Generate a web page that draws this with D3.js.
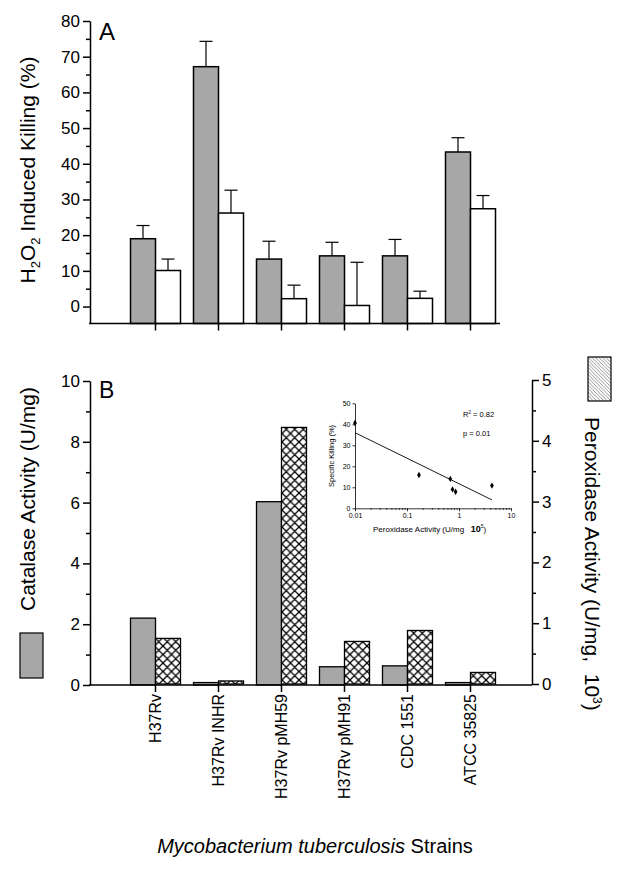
<!DOCTYPE html>
<html>
<head>
<meta charset="utf-8">
<script src="https://cdn.jsdelivr.net/npm/d3@7/dist/d3.min.js"></script>
<style>
body{margin:0;background:#fff;}
svg{font-family:"Liberation Sans", Arial, Helvetica, sans-serif;}
.axis path, .axis line{stroke:#000;stroke-width:1.5;}
.axis text{font-size:17px;fill:#000;}
.inset path, .inset line{stroke:#000;stroke-width:0.8;}
.inset text{font-size:7px;fill:#000;}
</style>
</head>
<body>
<svg id="chart" width="626" height="869"></svg>
<script>
var strains = ["H37Rv", "H37Rv INHR", "H37Rv pMH59", "H37Rv pMH91", "CDC 1551", "ATCC 35825"];

// panel A : H2O2 killing (%), upper error only
var killGray = [19.0, 67.2, 13.3, 14.2, 14.2, 43.3];
var killGrayErr = [3.7, 7.1, 5.0, 3.8, 4.6, 4.0];
var killWhite = [10.1, 26.2, 2.2, 0.3, 2.3, 27.4];
var killWhiteErr = [3.2, 6.4, 3.8, 12.1, 2.0, 3.7];
var killTicks = [0, 10, 20, 30, 40, 50, 60, 70, 80];
var killMinor = [5, 15, 25, 35, 45, 55, 65, 75];

// panel B : catalase (U/mg) and peroxidase (U/mg, 10^3)
var catalase = [2.2, 0.08, 6.03, 0.6, 0.63, 0.08];
var peroxidase = [0.75, 0.05, 4.22, 0.7, 0.88, 0.19];
var catTicks = [0, 2, 4, 6, 8, 10];
var catMinor = [1, 3, 5, 7, 9];
var perTicks = [0, 1, 2, 3, 4, 5];
var perMinor = [0.5, 1.5, 2.5, 3.5, 4.5];

// inset : specific killing vs peroxidase activity
var insetX = [0.01, 0.17, 0.68, 0.75, 0.86, 4.3];
var insetY = [40.6, 15.9, 14.0, 9.0, 7.9, 10.8];
var fitX = [0.01, 4.3];
var fitY = [36, 4];
var insetYTicks = [0, 10, 20, 30, 40, 50];
var insetXTicks = [0.01, 0.1, 1, 10];

var svg = d3.select("#chart");
var defs = svg.append("defs");

var cross = defs.append("pattern")
	.attr("id", "cross")
	.attr("patternUnits", "userSpaceOnUse")
	.attr("width", 8.5)
	.attr("height", 8.5)
	.attr("x", 1.5);
cross.append("rect").attr("width", 8.5).attr("height", 8.5).attr("fill", "#fff");
cross.append("path")
	.attr("d", "M0,0L8.5,8.5M8.5,0L0,8.5M-1,7.5L1,9.5M7.5,-1L9.5,1")
	.attr("stroke", "#000")
	.attr("stroke-width", 1.3);

var hatch = defs.append("pattern")
	.attr("id", "hatch")
	.attr("patternUnits", "userSpaceOnUse")
	.attr("width", 3.5)
	.attr("height", 3.5);
hatch.append("rect").attr("width", 3.5).attr("height", 3.5).attr("fill", "#fff");
hatch.append("path")
	.attr("d", "M0,0L3.5,3.5M-1,2.5L1,4.5M2.5,-1L4.5,1")
	.attr("stroke", "#666")
	.attr("stroke-width", 0.7);

var grayFill = "#a7a7a7";
var barW = 25;

var x = d3.scaleBand()
	.domain(strains)
	.range([124, 502]);

function cx(d){
	return x(d) + x.bandwidth() / 2;
}

// ---------- panel A ----------
var yA = d3.scaleLinear()
	.domain([-4.75, 80])
	.range([323.5, 21]);

svg.append("g")
	.attr("class", "axis")
	.attr("transform", "translate(90,0)")
	.call(d3.axisLeft(yA).tickValues(killTicks).tickSize(7).tickSizeOuter(0).tickPadding(3).tickFormat(d3.format("d")));

svg.append("g")
	.attr("class", "axis")
	.attr("transform", "translate(90,0)")
	.call(d3.axisLeft(yA).tickValues(killMinor).tickSize(4).tickFormat(""))
	.select(".domain").remove();

var gA = svg.append("g");

strains.forEach(function(s, i){
	var c = cx(s);
	var base = yA(yA.domain()[0]);
	[[killGray[i], killGrayErr[i], c - barW, grayFill], [killWhite[i], killWhiteErr[i], c, "#fff"]].forEach(function(b){
		var bx = b[2];
		gA.append("line")
			.attr("x1", bx + barW / 2)
			.attr("x2", bx + barW / 2)
			.attr("y1", yA(b[0]))
			.attr("y2", yA(b[0] + b[1]))
			.attr("stroke", "#000")
			.attr("stroke-width", 1.2);
		gA.append("line")
			.attr("x1", bx + barW / 2 - 6.5)
			.attr("x2", bx + barW / 2 + 6.5)
			.attr("y1", yA(b[0] + b[1]))
			.attr("y2", yA(b[0] + b[1]))
			.attr("stroke", "#000")
			.attr("stroke-width", 1.2);
		gA.append("rect")
			.attr("x", bx)
			.attr("y", yA(b[0]))
			.attr("width", barW)
			.attr("height", base - yA(b[0]))
			.attr("fill", b[3])
			.attr("stroke", "#000")
			.attr("stroke-width", 1.5);
	});
});

svg.append("line")
	.attr("x1", 89)
	.attr("x2", 500)
	.attr("y1", 323.5)
	.attr("y2", 323.5)
	.attr("stroke", "#000")
	.attr("stroke-width", 1.6);

svg.append("g")
	.attr("class", "axis")
	.attr("transform", "translate(0,323.5)")
	.call(d3.axisBottom(x).tickSize(7).tickFormat(""))
	.select(".domain").remove();

svg.append("text")
	.attr("x", 99)
	.attr("y", 40)
	.attr("font-size", 24)
	.text("A");

var labA = svg.append("text")
	.attr("transform", "translate(28,170) rotate(-90)")
	.attr("text-anchor", "middle")
	.attr("dy", "0.35em")
	.attr("font-size", 21);
labA.append("tspan").text("H");
labA.append("tspan").attr("font-size", 13).attr("dy", 5).text("2");
labA.append("tspan").attr("dy", -5).text("O");
labA.append("tspan").attr("font-size", 13).attr("dy", 5).text("2");
labA.append("tspan").attr("dy", -5).text(" Induced Killing (%)");

// ---------- panel B ----------
var yB = d3.scaleLinear()
	.domain([0, 10])
	.range([685, 381]);
var yR = d3.scaleLinear()
	.domain([0, 5])
	.range([684, 380]);

svg.append("g")
	.attr("class", "axis")
	.attr("transform", "translate(90,0)")
	.call(d3.axisLeft(yB).tickValues(catTicks).tickSize(7).tickSizeOuter(0).tickPadding(3).tickFormat(d3.format("d")));
svg.append("g")
	.attr("class", "axis")
	.attr("transform", "translate(90,0)")
	.call(d3.axisLeft(yB).tickValues(catMinor).tickSize(4).tickFormat(""))
	.select(".domain").remove();

svg.append("g")
	.attr("class", "axis")
	.attr("transform", "translate(532,0)")
	.call(d3.axisRight(yR).tickValues(perTicks).tickSize(7).tickSizeOuter(0).tickPadding(3).tickFormat(d3.format("d")));
svg.append("g")
	.attr("class", "axis")
	.attr("transform", "translate(532,0)")
	.call(d3.axisRight(yR).tickValues(perMinor).tickSize(4).tickFormat(""))
	.select(".domain").remove();

var gB = svg.append("g");
strains.forEach(function(s, i){
	var c = cx(s);
	gB.append("rect")
		.attr("x", c - barW)
		.attr("y", yB(catalase[i]))
		.attr("width", barW)
		.attr("height", yB(0) - yB(catalase[i]))
		.attr("fill", grayFill)
		.attr("stroke", "#000")
		.attr("stroke-width", 1.3);
	gB.append("rect")
		.attr("x", c)
		.attr("y", yR(peroxidase[i]))
		.attr("width", barW)
		.attr("height", yR(0) - yR(peroxidase[i]))
		.attr("fill", "url(#cross)")
		.attr("stroke", "#000")
		.attr("stroke-width", 1.3);
});

svg.append("line")
	.attr("x1", 89)
	.attr("x2", 532)
	.attr("y1", 685)
	.attr("y2", 685)
	.attr("stroke", "#000")
	.attr("stroke-width", 1.6);

var xAxisB = svg.append("g")
	.attr("class", "axis")
	.attr("transform", "translate(0,685)")
	.call(d3.axisBottom(x).tickSize(7).tickPadding(2));
xAxisB.select(".domain").remove();
xAxisB.selectAll("text")
	.style("font-size", "16px")
	.attr("text-anchor", "end")
	.attr("dy", "0.35em")
	.attr("transform", "rotate(-90)")
	.attr("x", -9)
	.attr("y", 0);

svg.append("text")
	.attr("x", 99)
	.attr("y", 398)
	.attr("font-size", 23)
	.text("B");

svg.append("text")
	.attr("transform", "translate(28,499) rotate(-90)")
	.attr("text-anchor", "middle")
	.attr("dy", "0.35em")
	.attr("font-size", 21)
	.text("Catalase Activity (U/mg)");

var labR = svg.append("text")
	.attr("transform", "translate(592,417) rotate(90)")
	.attr("dy", "0.35em")
	.attr("font-size", 21)
	.style("white-space", "pre");
labR.append("tspan").text("Peroxidase Activity (U/mg,  10");
labR.append("tspan").attr("font-size", 12).attr("dy", -8).text("3");
labR.append("tspan").attr("dy", 8).text(")");

// legend swatches
svg.append("rect")
	.attr("x", 20).attr("y", 633)
	.attr("width", 23).attr("height", 45)
	.attr("fill", grayFill)
	.attr("stroke", "#000")
	.attr("stroke-width", 1.2);
svg.append("rect")
	.attr("x", 588).attr("y", 357)
	.attr("width", 23).attr("height", 44)
	.attr("fill", "url(#hatch)")
	.attr("stroke", "#000")
	.attr("stroke-width", 1.2);

var xTitle = svg.append("text")
	.attr("x", 315)
	.attr("y", 853)
	.attr("text-anchor", "middle")
	.attr("font-size", 20);
xTitle.append("tspan").attr("font-style", "italic").text("Mycobacterium tuberculosis");
xTitle.append("tspan").text(" Strains");

// ---------- inset ----------
var ix = d3.scaleLog()
	.domain([0.01, 10])
	.range([355, 511]);
var iy = d3.scaleLinear()
	.domain([0, 50])
	.range([508.3, 403.3]);

var minorLog = [];
[0.01, 0.1, 1].forEach(function(dec){
	for(var k = 2; k < 10; k++){
		minorLog.push(dec * k);
	}
});

svg.append("g")
	.attr("class", "inset")
	.attr("transform", "translate(355,0)")
	.call(d3.axisLeft(iy).tickValues(insetYTicks).tickSize(2.5).tickSizeOuter(0).tickPadding(2));
svg.append("g")
	.attr("class", "inset")
	.attr("transform", "translate(0,508.3)")
	.call(d3.axisBottom(ix).tickValues(insetXTicks).tickSize(3).tickSizeOuter(0).tickPadding(2)
		.tickFormat(function(d){ return d < 1 ? String(d) : d3.format("d")(d); }));
svg.append("g")
	.attr("class", "inset")
	.attr("transform", "translate(0,508.3)")
	.call(d3.axisBottom(ix).tickValues(minorLog).tickSize(1.5).tickFormat(""))
	.select(".domain").remove();

svg.append("line")
	.attr("x1", ix(fitX[0]))
	.attr("x2", ix(fitX[1]))
	.attr("y1", iy(fitY[0]))
	.attr("y2", iy(fitY[1]))
	.attr("stroke", "#000")
	.attr("stroke-width", 0.9);

svg.append("g").selectAll("path")
	.data(insetX)
	.enter()
	.append("path")
	.attr("d", d3.symbol().type(d3.symbolDiamond).size(12))
	.attr("transform", function(d, i){
		return "translate(" + ix(d) + "," + iy(insetY[i]) + ")";
	})
	.attr("fill", "#000");

var r2 = svg.append("text")
	.attr("x", 463)
	.attr("y", 417)
	.attr("font-size", 7.5)
	.attr("fill", "#000");
r2.append("tspan").text("R");
r2.append("tspan").attr("font-size", 4.5).attr("dy", -3).text("2");
r2.append("tspan").attr("dy", 3).text(" = 0.82");

svg.append("text")
	.attr("x", 463)
	.attr("y", 436)
	.attr("font-size", 7.5)
	.attr("fill", "#000")
	.text("p = 0.01");

svg.append("text")
	.attr("transform", "translate(331,456) rotate(-90)")
	.attr("text-anchor", "middle")
	.attr("dy", "0.35em")
	.attr("font-size", 7.5)
	.attr("fill", "#000")
	.text("Specific Killing (%)");

var ixt = svg.append("text")
	.attr("x", 373)
	.attr("y", 532)
	.attr("font-size", 8)
	.attr("fill", "#000")
	.style("white-space", "pre");
ixt.append("tspan").text("Peroxidase Activity (U/mg   ");
ixt.append("tspan").attr("font-weight", "bold").attr("font-size", 9).text("10");
ixt.append("tspan").attr("font-size", 5).attr("dy", -4).text("5");
ixt.append("tspan").attr("dy", 4).text(")");
</script>
</body>
</html>
